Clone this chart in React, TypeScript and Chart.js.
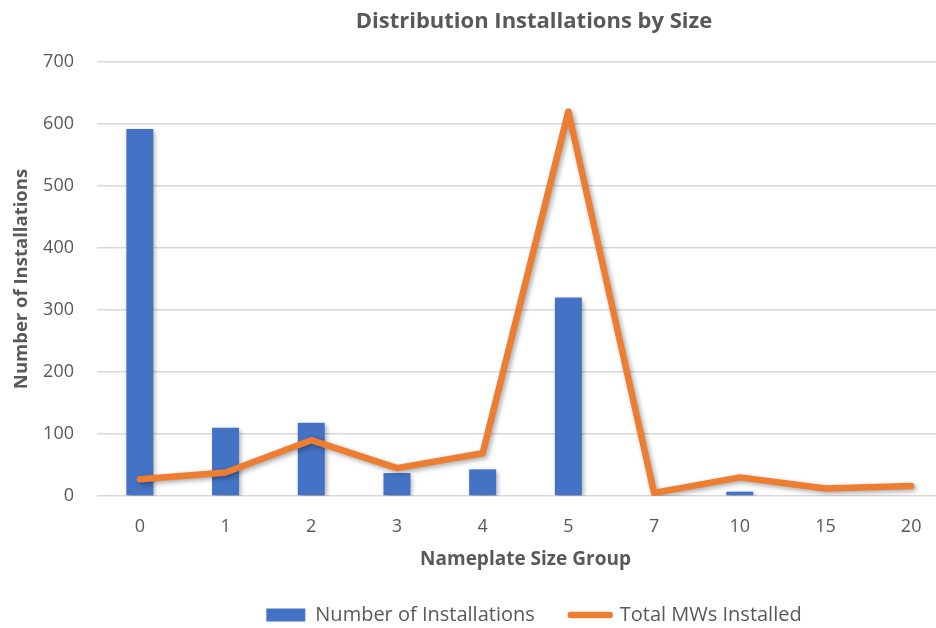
import React, { useEffect, useRef } from "react";
import { Chart, registerables } from "chart.js";

Chart.register(...registerables);

const categories = ["0", "1", "2", "3", "4", "5", "7", "10", "15", "20"];
const installations = [592, 110, 118, 37, 43, 320, 0, 7, 0, 0];
const totalMW = [27, 38, 90, 45, 69, 620, 5, 30, 12, 16];
const yMin = 0;
const yMax = 700;
const yStep = 100;

const FONT = "'Open Sans', 'Noto Sans', sans-serif";
const TEXT = "#595959";

export default function App() {
  const ref = useRef<HTMLCanvasElement>(null);

  useEffect(() => {
    const shadow = {
      id: "shadow",
      beforeDatasetsDraw(chart: any) {
        const c = chart.ctx;
        c.save();
        c.shadowColor = "rgba(0,0,0,0.35)";
        c.shadowBlur = 5;
        c.shadowOffsetX = 2;
        c.shadowOffsetY = 2;
      },
      afterDatasetsDraw(chart: any) {
        chart.ctx.restore();
      },
    };

    const chart = new Chart(ref.current as HTMLCanvasElement, {
      type: "bar",
      data: {
        labels: categories,
        datasets: [
          {
            type: "bar",
            label: "Number of Installations",
            data: installations,
            backgroundColor: "#4472C4",
            barPercentage: 1,
            categoryPercentage: 0.315,
            order: 1,
          } as any,
          {
            type: "line",
            label: "Total MWs Installed",
            data: totalMW,
            borderColor: "#ED7D31",
            backgroundColor: "#ED7D31",
            borderWidth: 6.5,
            pointRadius: 0,
            tension: 0,
            borderJoinStyle: "round",
            borderCapStyle: "round",
            order: 0,
          } as any,
        ],
      },
      options: {
        responsive: false,
        animation: false,
        devicePixelRatio: 1,
        layout: { padding: { top: 0, left: 0, right: 0, bottom: -7 } },
        plugins: {
          title: {
            display: true,
            text: "Distribution Installations by Size",
            color: TEXT,
            font: { family: FONT, size: 22, weight: "bold" },
            padding: { top: 9, bottom: 26.6 },
          },
          legend: {
            position: "bottom",
            labels: {
              usePointStyle: true,
              pointStyleWidth: 39,
              boxHeight: 13,
              padding: 36,
              color: TEXT,
              font: { family: FONT, size: 20 },
              generateLabels: () => [
                {
                  text: "Number of Installations",
                  fillStyle: "#4472C4",
                  strokeStyle: "#4472C4",
                  lineWidth: 0,
                  pointStyle: "rect",
                  datasetIndex: 0,
                  hidden: false,
                  fontColor: TEXT,
                } as any,
                {
                  text: "Total MWs Installed",
                  fillStyle: "#ED7D31",
                  strokeStyle: "#ED7D31",
                  lineWidth: 6.5,
                  lineCap: "round",
                  pointStyle: "line",
                  datasetIndex: 1,
                  hidden: false,
                  fontColor: TEXT,
                } as any,
              ],
            },
          },
          tooltip: { enabled: false },
        },
        scales: {
          x: {
            grid: { display: false, drawTicks: false },
            border: { display: false },
            ticks: { color: TEXT, font: { family: FONT, size: 18 }, padding: 20 },
            title: {
              display: true,
              text: "Nameplate Size Group",
              color: TEXT,
              font: { family: FONT, size: 19, weight: "bold" },
              padding: { top: 0, bottom: -2.4 },
            },
            afterFit(scale: any) {
              scale.height = 73;
            },
          },
          y: {
            min: yMin,
            max: yMax,
            ticks: { stepSize: yStep, color: TEXT, font: { family: FONT, size: 18 }, padding: 23 },
            grid: { color: "#D9D9D9", lineWidth: 1.5, drawTicks: false },
            border: { display: false },
            title: {
              display: true,
              text: "Number of Installations",
              color: TEXT,
              font: { family: FONT, size: 18.5, weight: "bold" },
              padding: { top: 11, bottom: 0 },
            },
            afterFit(scale: any) {
              scale.width = 97;
            },
          },
          yPad: {
            position: "right",
            display: true,
            min: yMin,
            max: yMax,
            grid: { display: false, drawTicks: false },
            border: { display: false },
            ticks: { display: false },
            afterFit(scale: any) {
              scale.width = 114;
            },
          },
        },
      } as any,
      plugins: [shadow],
    });
    return () => chart.destroy();
  }, []);

  return (
    <div
      style={{
        position: "fixed",
        left: 0,
        top: 0,
        width: 936,
        height: 628,
        overflow: "hidden",
        background: "#fff",
      }}
    >
      <canvas ref={ref} width={1068} height={628} style={{ display: "block" }} />
    </div>
  );
}
